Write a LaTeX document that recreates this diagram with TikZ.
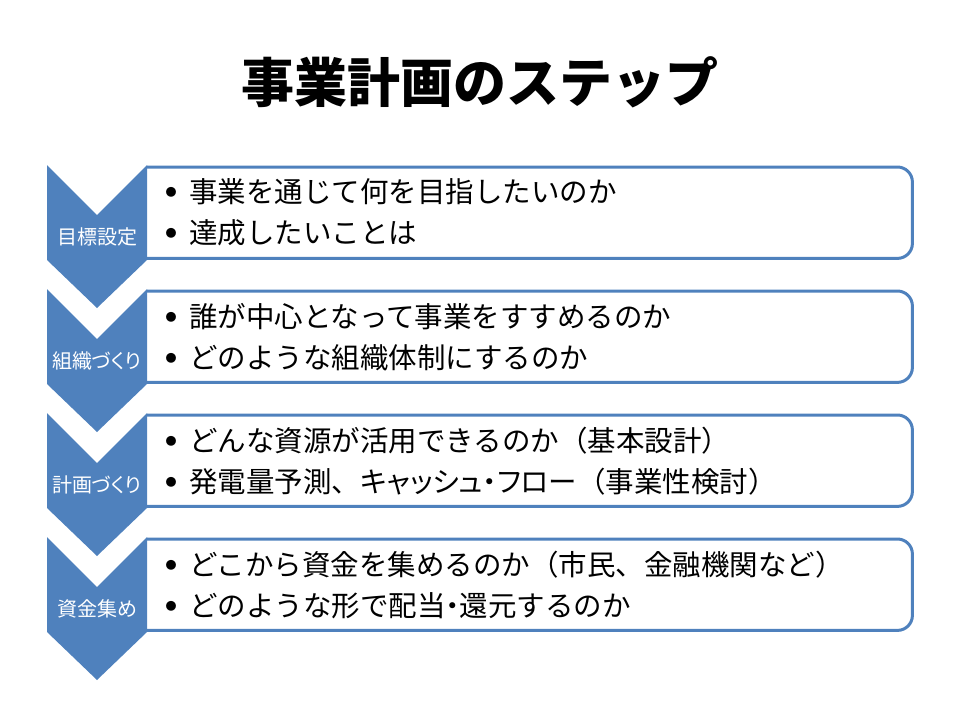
\documentclass[tikz,border=0pt]{standalone}
\usepackage{fontspec}
\setmainfont{Noto Sans CJK JP}
\usetikzlibrary{positioning}
\definecolor{stepblue}{HTML}{4F81BD}
\newcommand\stepbullet{\makebox[24pt][l]{\makebox[12pt]{\fontsize{11}{11}\selectfont\raisebox{6pt}{●}}}}
\newcommand\tightkana[1]{{\addfontfeatures{RawFeature=+palt}#1}}

\tikzset{
  chevron/.style={fill=stepblue, draw=none},
  steplabel/.style={text=white, inner sep=0pt, font=\fontsize{20}{22}\selectfont\addfontfeatures{RawFeature=+palt}},
  stepbox/.style={anchor=north west, minimum width=765pt, minimum height=91pt,
    text width=729pt, inner xsep=18pt, align=left, font=\fontsize{28.5}{41}\selectfont},
  boxline/.style={draw=stepblue, line width=3pt, rounded corners=15pt},
}

\begin{document}
\begin{tikzpicture}[x=1pt, y=-1pt]
\useasboundingbox (0,0) rectangle (960,720);

\node[font=\bfseries\fontsize{53}{60}\selectfont] (title) at (480,82) {事業計画のステップ};

% text boxes
\node[stepbox] (goal) at (147,167) {\stepbullet 事業を通じて何を目指したいのか\\ \stepbullet 達成したいことは};
\node[stepbox] (team) at (147,291) {\stepbullet 誰が中心となって事業をすすめるのか\\ \stepbullet どのような組織体制にするのか};
\node[stepbox] (plan) at (147,415) {\stepbullet どんな資源が活用できるのか（基本設計）\\ \stepbullet 発電量予測、\tightkana{キャッシュ・フロー}（事業性検討）};
\node[stepbox] (fund) at (147,539) {\stepbullet どこから資金を集めるのか（市民、金融機関など）\\ \stepbullet どのような形で配当\tightkana{・}還元するのか};

\draw[boxline] (goal.north west) -- (goal.north east) -- (goal.south east) -- (goal.south west);
\draw[boxline] (team.north west) -- (team.north east) -- (team.south east) -- (team.south west);
\draw[boxline] (plan.north west) -- (plan.north east) -- (plan.south east) -- (plan.south west);
\draw[boxline] (fund.north west) -- (fund.north east) -- (fund.south east) -- (fund.south west);

% chevrons
\draw[chevron] (47,165) -- (97,215) -- (147,165) -- (147,260) -- (97,308) -- (47,260) -- cycle;
\draw[chevron] (47,289) -- (97,339) -- (147,289) -- (147,384) -- (97,432) -- (47,384) -- cycle;
\draw[chevron] (47,413) -- (97,463) -- (147,413) -- (147,508) -- (97,556) -- (47,508) -- cycle;
\draw[chevron] (47,537) -- (97,587) -- (147,537) -- (147,632) -- (97,680) -- (47,632) -- cycle;

\node[steplabel] (goallabel) at (97,237) {目標設定};
\node[steplabel] (teamlabel) at (97,361) {組織づくり};
\node[steplabel] (planlabel) at (97,485) {計画づくり};
\node[steplabel] (fundlabel) at (97,609) {資金集め};
\end{tikzpicture}
\end{document}
